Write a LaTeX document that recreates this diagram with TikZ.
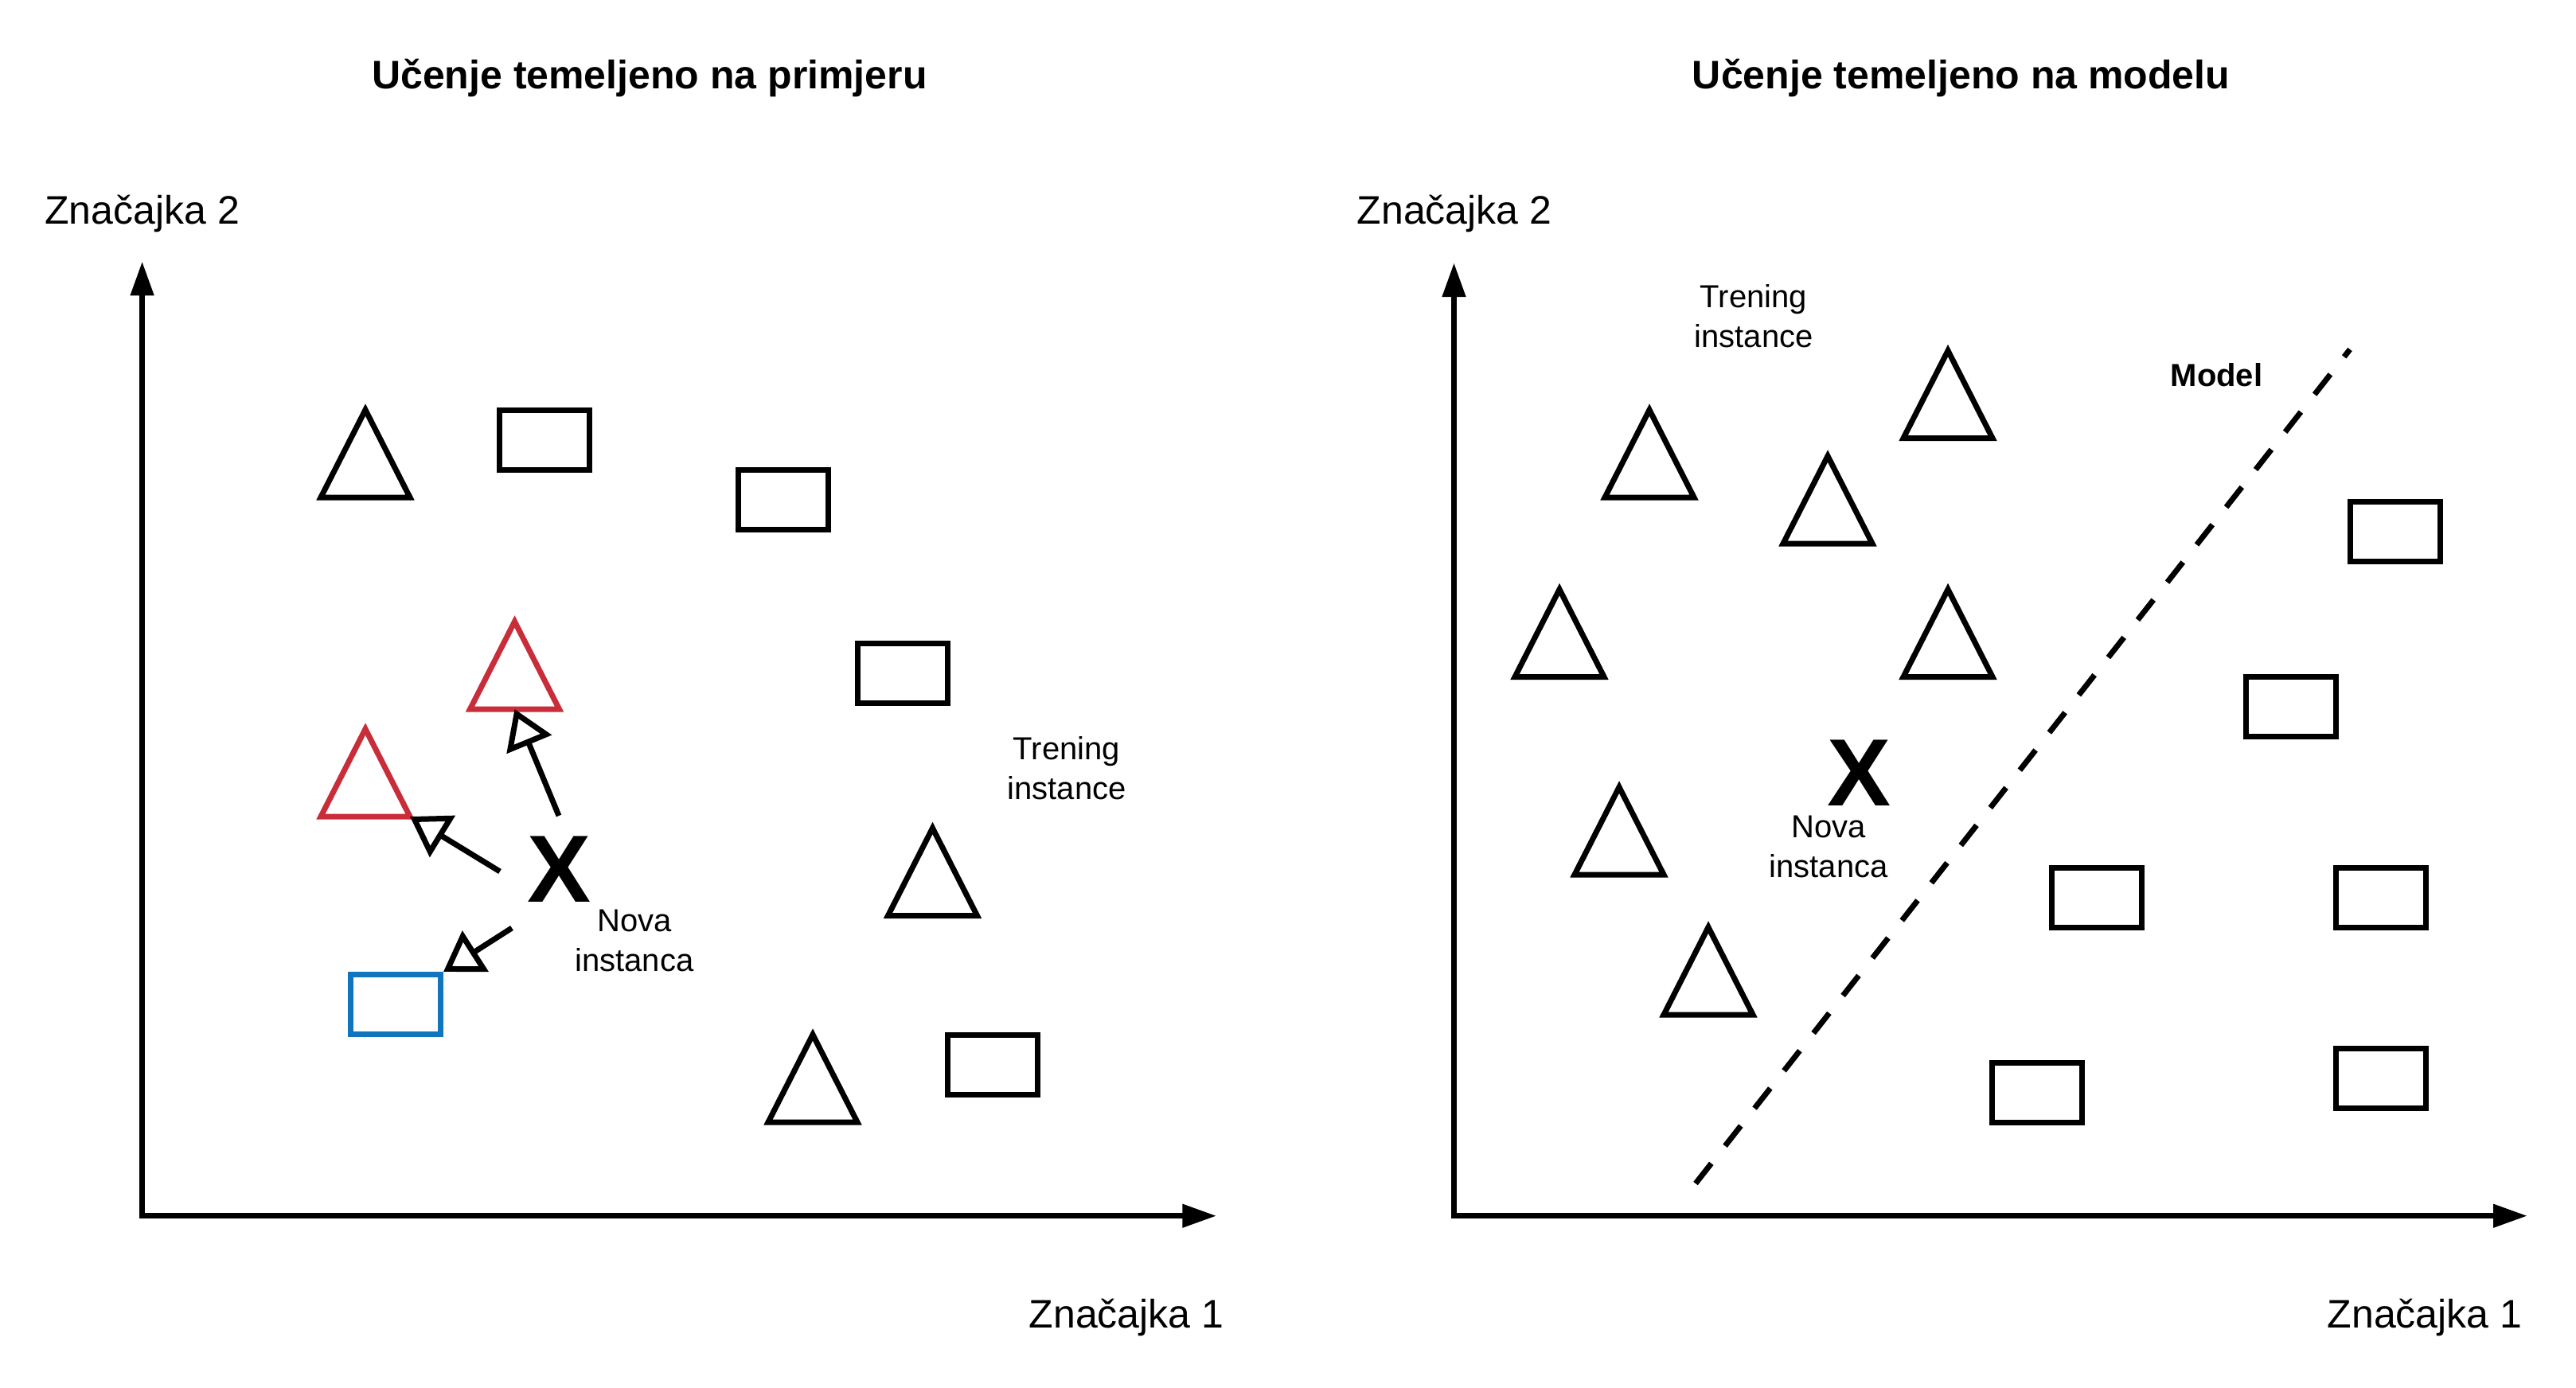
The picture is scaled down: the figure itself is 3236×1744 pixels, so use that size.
\documentclass[tikz,border=0pt]{standalone}
\usepackage{fontspec}
\setmainfont{Liberation Sans}
\usetikzlibrary{arrows.meta}
\definecolor{nbred}{RGB}{201,45,57}
\definecolor{nbblue}{RGB}{16,117,188}
% triangle centred at #3, with named corners
\newcommand{\trian}[3][black]{%
  \coordinate (#2) at (#3);
  \draw[shp,#1] (#2) ++(-56,55) coordinate (#2-l) -- ++(112,0) coordinate (#2-r)
    -- ++(-56,-110) coordinate (#2-a) -- cycle;
  \path (#2) ++(0,55) coordinate (#2-b);}

\begin{document}
\begin{tikzpicture}[x=1pt,y=-1pt,
  shp/.style={line width=7pt,line join=miter},
  box/.style={draw,line width=7pt,minimum width=113pt,minimum height=75pt,inner sep=0pt},
  axis/.style={line width=7.5pt,line cap=rect,-{Triangle[length=43pt,width=28pt]}},
  near/.style={line width=7pt,-{Triangle[fill=white,length=48pt,width=60pt]}},
  bound/.style={line width=7pt,dash pattern=on 32pt off 28pt},
  ttl/.style={font=\fontsize{50}{60}\selectfont\bfseries,anchor=base},
  lbl/.style={font=\fontsize{50}{60}\selectfont,anchor=base},
  txt/.style={font=\fontsize{40}{50}\selectfont,align=center},
  newx/.style={font=\fontsize{120}{144}\selectfont\bfseries,inner sep=0pt}]
  \useasboundingbox (0,0) rectangle (3236,1744);

  % axes
  \coordinate (lo) at (178.6,1527.7);
  \coordinate (ly) at (178.6,328.3);
  \coordinate (lx) at (1528.3,1527.7);
  \coordinate (ro) at (1826.5,1527.7);
  \coordinate (ry) at (1826.5,330);
  \coordinate (rx) at (3175,1527.7);
  \draw[axis] (lo) -- (ly);
  \draw[axis] (lo) -- (lx);
  \draw[axis] (ro) -- (ry);
  \draw[axis] (ro) -- (rx);

  % titles and axis labels
  \node[ttl] (t1) at (816,111.7) {Učenje temeljeno na primjeru};
  \node[ttl] (t2) at (2463.5,111.7) {Učenje temeljeno na modelu};
  \node[lbl] (y1) at (178.6,281.7) {Značajka 2};
  \node[lbl] (y2) at (1827,281.7) {Značajka 2};
  \node[lbl] (x1) at (1415,1668.3) {Značajka 1};
  \node[lbl] (x2) at (3046,1668.3) {Značajka 1};

  % left: instance based
  \trian{pa}{459,570}
  \trian{ph}{1171.5,1095.5}
  \trian{pi}{1021,1355}
  \trian[nbred]{pe}{646.5,836}
  \trian[nbred]{pf}{459,971}
  \node[box] (pb) at (684,553) {};
  \node[box] (pc) at (984,628) {};
  \node[box] (pd) at (1134,846) {};
  \node[box] (pj) at (1247,1337.5) {};
  \node[box,nbblue] (pg) at (497,1262) {};
  \node[newx] (xl) at (703,1092) {X};
  \node[txt] (nl) at (797,1182) {Nova\\instanca};
  \node[txt] (tl) at (1340,965.5) {Trening\\instance};
  \coordinate (a1) at (702,1025);
  \coordinate (a2) at (628,1095);
  \coordinate (a3) at (643,1166);
  \draw[near] (a1) -- (pe-b);
  \draw[near] (a2) -- (pf-r);
  \draw[near] (a3) -- (pg.north east);

  % right: model based
  \trian{mk}{2447,495.6}
  \trian{ml}{2072,570}
  \trian{mm}{2296,628}
  \trian{mn}{1959,795.5}
  \trian{mo}{2447,795.5}
  \trian{mp}{2034,1044}
  \trian{mq}{2146,1220}
  \node[box] (mr) at (3009,668) {};
  \node[box] (ms) at (2878,887.5) {};
  \node[box] (mt) at (2634,1127.5) {};
  \node[box] (mu) at (2991,1127.5) {};
  \node[box] (mv) at (2559,1372.5) {};
  \node[box] (mw) at (2991,1355) {};
  \node[newx] (xr) at (2335,971) {X};
  \node[txt] (nr) at (2297,1064) {Nova\\instanca};
  \node[txt] (tr) at (2203,397.7) {Trening\\instance};
  \coordinate (b0) at (2130,1487);
  \coordinate (b1) at (2952,439);
  \draw[bound] (b0) -- (b1);
  \node[font=\fontsize{40}{48}\selectfont\bfseries,anchor=base] (md) at (2784.5,485.7) {Model};
\end{tikzpicture}
\end{document}
